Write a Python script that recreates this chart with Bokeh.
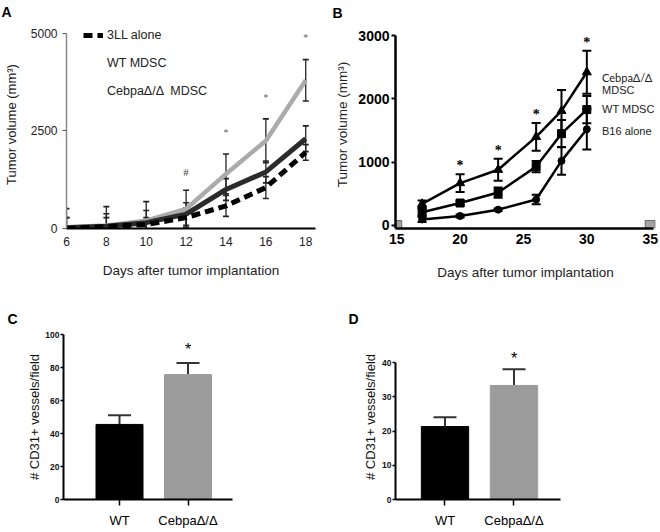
from bokeh.plotting import figure
from bokeh.models import (ColumnDataSource, Range1d, Whisker, TeeHead, Legend, LegendItem,
                          Label, LabelSet, FixedTicker, Title)
from bokeh.layouts import column, row
from bokeh.embed import file_html
from bokeh.resources import INLINE

FONT = "Liberation Sans"
ALT_FONT = "Lato"

# ---------------- Panel A data ----------------
a_days = [6, 8, 10, 12, 14, 16, 18]
a_3ll = [0, 50, 100, 280, 580, 1050, 1950]
a_3ll_err = [280, 230, 180, 250, 270, 280, 200]
a_wt = [20, 60, 150, 370, 1000, 1450, 2300]
a_wt_err = [260, 320, 310, 290, 280, 280, 330]
a_ceb = [30, 80, 200, 500, 1400, 2250, 3800]
a_ceb_err = [480, 480, 490, 480, 510, 560, 530]
a_yticks = [0, 2500, 5000]
a_star_days = [14, 16, 18]
a_hash_days = [12]

# ---------------- Panel B data ----------------
b_days = [17, 20, 23, 26, 28, 30]
b_ceb = [340, 670, 880, 1400, 1810, 2420]
b_ceb_err = [55, 140, 175, 220, 330, 340]
b_wt = [210, 355, 520, 930, 1450, 1830]
b_wt_err = [60, 30, 80, 90, 215, 215]
b_b16 = [95, 150, 250, 410, 1020, 1520]
b_b16_err = [40, 25, 20, 75, 220, 320]
b_xticks = [15, 20, 25, 30, 35]
b_yticks = [0, 1000, 2000, 3000]
b_star_days = [20, 23, 26, 30]
b_corner_days = [15, 35]

# ---------------- Panels C / D data ----------------
bar_cats = ["WT", "CebpaΔ/Δ"]
c_vals = [45.5, 75.7]
c_err = [5.5, 7.1]
c_yticks = [0, 20, 40, 60, 80, 100]
d_vals = [21.3, 33.3]
d_err = [2.7, 4.7]
d_yticks = [0, 10, 20, 30, 40]
bar_colors = ["#000000", "#9b9b9b"]


def base_fig(**kw):
    p = figure(output_backend="svg", toolbar_location=None, **kw)
    p.xgrid.visible = False
    p.ygrid.visible = False
    p.outline_line_color = None
    p.background_fill_color = "white"
    p.border_fill_color = "white"
    for ax in (p.xaxis[0], p.yaxis[0]):
        ax.minor_tick_line_color = None
        ax.major_tick_in = 0
        ax.major_label_text_font = FONT
        ax.axis_label_text_font = FONT
        ax.axis_label_text_font_style = "normal"
    return p


def panel_title(p, text, offset, standoff):
    p.title.text = text
    p.title.align = "left"
    p.title.offset = offset
    p.title.standoff = standoff
    p.title.text_font = FONT
    p.title.text_font_size = "14px"
    p.title.text_font_style = "bold"
    p.title.text_color = "black"


# ================= Panel A =================
pA = base_fig(width=330, height=300, x_range=Range1d(6, 18.49), y_range=Range1d(0, 5333),
              min_border_left=63, min_border_right=15, min_border_top=20, min_border_bottom=72)
pA.yaxis.bounds = (0, 5000)
pA.xaxis.ticker = FixedTicker(ticks=a_days)
pA.yaxis.ticker = FixedTicker(ticks=a_yticks)
pA.xaxis.axis_line_color = "black"
pA.xaxis.axis_line_width = 2
pA.xaxis.major_tick_out = 0
pA.xaxis.major_label_text_font_size = "12px"
pA.xaxis.major_label_text_color = "#222222"
pA.xaxis.major_label_standoff = 8
pA.xaxis.axis_label = "Days after tumor implantation"
pA.xaxis.axis_label_text_font_size = "13.5px"
pA.xaxis.axis_label_text_color = "#222222"
pA.xaxis.axis_label_standoff = 14
pA.yaxis.axis_line_color = "#8a8a8a"
pA.yaxis.axis_line_width = 1.5
pA.yaxis.major_tick_out = 4
pA.yaxis.major_tick_line_color = "#555555"
pA.yaxis.major_label_text_font_size = "12px"
pA.yaxis.major_label_text_color = "#222222"
pA.yaxis.major_label_standoff = 5
pA.yaxis.axis_label = "Tumor volume (mm³)"
pA.yaxis.axis_label_text_font_size = "13px"
pA.yaxis.axis_label_text_color = "#222222"
pA.yaxis.axis_label_standoff = 9

srcA = ColumnDataSource(dict(
    x=a_days,
    ceb=a_ceb, wt=a_wt, ll=a_3ll,
    ceb_u=[m + e for m, e in zip(a_ceb, a_ceb_err)], ceb_l=[m - e for m, e in zip(a_ceb, a_ceb_err)],
    wt_u=[m + e for m, e in zip(a_wt, a_wt_err)], wt_l=[m - e for m, e in zip(a_wt, a_wt_err)],
    ll_u=[m + e for m, e in zip(a_3ll, a_3ll_err)], ll_l=[m - e for m, e in zip(a_3ll, a_3ll_err)],
))

for u, l in (("ceb_u", "ceb_l"), ("wt_u", "wt_l"), ("ll_u", "ll_l")):
    pA.add_layout(Whisker(base="x", upper=u, lower=l, source=srcA, line_color="#222222", line_width=1.3,
                          upper_head=TeeHead(size=6, line_color="#222222", line_width=1.6),
                          lower_head=TeeHead(size=6, line_color="#222222", line_width=1.6)))

r_ceb = pA.line("x", "ceb", source=srcA, line_color="#ababab", line_width=4.5)
r_wt = pA.line("x", "wt", source=srcA, line_color="#2b2b2b", line_width=5)
r_3ll = pA.line("x", "ll", source=srcA, line_color="black", line_width=5, line_dash="9 5")
r_cb1 = pA.line([], [], line_color="#5a5a5a", line_width=8)
r_cb2 = pA.line([], [], line_color="#bdbdbd", line_width=5)
r_wtl = pA.line([], [], line_color="black", line_width=6)

legA = Legend(items=[LegendItem(label="3LL alone", renderers=[r_3ll]),
                     LegendItem(label="WT MDSC", renderers=[r_wtl]),
                     LegendItem(label="CebpaΔ/Δ  MDSC", renderers=[r_cb1, r_cb2])],
              location=(17, 127), glyph_width=20, glyph_height=20, spacing=8, padding=0, margin=0,
              label_standoff=4, label_text_font=FONT, label_text_font_size="12.5px",
              label_text_color="#222222", border_line_color=None, background_fill_alpha=0)
pA.add_layout(legA)

ceb_upper_a = dict(zip(a_days, srcA.data["ceb_u"]))
starsA = ColumnDataSource(dict(x=a_star_days, y=[ceb_upper_a[d] + 560 for d in a_star_days],
                               t=["*"] * len(a_star_days)))
pA.add_layout(LabelSet(x="x", y="y", text="t", source=starsA, text_align="center",
                       text_baseline="middle", text_font=FONT, text_font_size="10px",
                       text_color="#666666"))
hashA = ColumnDataSource(dict(x=a_hash_days, y=[ceb_upper_a[d] + 480 for d in a_hash_days],
                              t=["#"] * len(a_hash_days)))
pA.add_layout(LabelSet(x="x", y="y", text="t", source=hashA, text_align="center",
                       text_baseline="middle", text_font=FONT, text_font_size="11px",
                       text_color="#444444"))
panel_title(pA, "A", -65, 2)

# ================= Panel B =================
pB = base_fig(width=330, height=300, x_range=Range1d(14.9, 35.42), y_range=Range1d(-47.4, 3237),
              min_border_left=65, min_border_right=5, min_border_top=20, min_border_bottom=72)
pB.xaxis.bounds = (14.9, 35.25)
pB.yaxis.bounds = (-47.4, 3000)
pB.xaxis.ticker = FixedTicker(ticks=b_xticks)
pB.yaxis.ticker = FixedTicker(ticks=b_yticks)
for ax in (pB.xaxis[0], pB.yaxis[0]):
    ax.axis_line_color = "black"
    ax.axis_line_width = 2.5
    ax.major_tick_line_color = "black"
    ax.major_tick_line_width = 2
    ax.major_label_text_font_style = "bold"
    ax.major_label_text_font_size = "14px"
    ax.major_label_text_color = "black"
    ax.axis_label_text_font_size = "13.5px"
    ax.axis_label_text_color = "#222222"
pB.xaxis.major_tick_out = 0
pB.xaxis.major_label_standoff = 5
pB.xaxis.axis_label = "Days after tumor implantation"
pB.xaxis.axis_label_standoff = 18
pB.yaxis.major_tick_out = 4
pB.yaxis.major_label_standoff = 2
pB.yaxis.axis_label = "Tumor volume (mm³)"
pB.yaxis.axis_label_standoff = 5

srcB = ColumnDataSource(dict(
    x=b_days, ceb=b_ceb, wt=b_wt, b16=b_b16,
    ceb_u=[m + e for m, e in zip(b_ceb, b_ceb_err)], ceb_l=[m - e for m, e in zip(b_ceb, b_ceb_err)],
    wt_u=[m + e for m, e in zip(b_wt, b_wt_err)], wt_l=[m - e for m, e in zip(b_wt, b_wt_err)],
    b16_u=[m + e for m, e in zip(b_b16, b_b16_err)], b16_l=[m - e for m, e in zip(b_b16, b_b16_err)],
))
for u, l in (("ceb_u", "ceb_l"), ("wt_u", "wt_l"), ("b16_u", "b16_l")):
    pB.add_layout(Whisker(base="x", upper=u, lower=l, source=srcB, line_color="black", line_width=2,
                          upper_head=TeeHead(size=9, line_color="black", line_width=2),
                          lower_head=TeeHead(size=9, line_color="black", line_width=2)))
pB.line("x", "ceb", source=srcB, line_color="black", line_width=2.5)
pB.line("x", "wt", source=srcB, line_color="black", line_width=2.5)
pB.line("x", "b16", source=srcB, line_color="black", line_width=2.5)
pB.scatter("x", "ceb", source=srcB, marker="triangle", size=9, color="black")
pB.scatter("x", "wt", source=srcB, marker="square", size=8, color="black")
pB.scatter("x", "b16", source=srcB, marker="circle", size=7, color="black")
pB.scatter(b_corner_days, [0] * len(b_corner_days), marker="square", size=10,
           fill_color="#a3a3a3", line_color="#6a6a6a", line_width=1)

ceb_upper_b = dict(zip(b_days, srcB.data["ceb_u"]))
starsB = ColumnDataSource(dict(x=b_star_days, y=[ceb_upper_b[d] + 130 for d in b_star_days],
                               t=["*"] * len(b_star_days)))
pB.add_layout(LabelSet(x="x", y="y", text="t", source=starsB, text_align="center",
                       text_baseline="middle", text_font=FONT, text_font_size="14px",
                       text_font_style="bold", text_color="black"))
lab_x = 31.2
for txt, yv, fnt in (("CebpaΔ/Δ", 2337, ALT_FONT), ("MDSC", 2132, FONT),
                     ("WT MDSC", 1847, FONT), ("B16 alone", 1500, FONT)):
    pB.add_layout(Label(x=lab_x, y=yv, text=txt, text_font=fnt, text_font_size="11px",
                        text_color="#222222", text_baseline="middle", text_align="left"))
panel_title(pB, "B", -63, 0)


# ================= Panels C / D =================
def bar_panel(width, x_rng, y_max, x_bounds, y_top, yticks, vals, errs, mb_left, mb_right,
              use_axis_label, label_standoff):
    p = base_fig(width=width, height=232, x_range=Range1d(*x_rng), y_range=Range1d(0, y_max),
                 min_border_left=mb_left, min_border_right=mb_right, min_border_top=34,
                 min_border_bottom=33)
    pos = [i + 0.5 for i in range(len(bar_cats))]
    src = ColumnDataSource(dict(x=pos, top=vals, up=[v + e for v, e in zip(vals, errs)], color=bar_colors))
    p.add_layout(Whisker(base="x", upper="up", lower="top", source=src, line_color="#333333",
                         line_width=2, upper_head=TeeHead(size=23, line_color="#333333", line_width=2),
                         lower_head=None))
    p.vbar(x="x", top="top", width=0.686, color="color", source=src)
    p.xaxis.ticker = FixedTicker(ticks=pos)
    p.xaxis.major_label_overrides = {x: c for x, c in zip(pos, bar_cats)}
    p.xaxis.bounds = x_bounds
    p.yaxis.bounds = (0, y_top)
    for ax in (p.xaxis[0], p.yaxis[0]):
        ax.axis_line_color = "black"
        ax.axis_line_width = 2
        ax.major_tick_line_color = "black"
        ax.major_tick_line_width = 1.5
    p.xaxis.major_tick_out = 6
    p.xaxis.major_label_text_font_size = "13px"
    p.xaxis.major_label_text_color = "black"
    p.xaxis.major_label_standoff = 7
    p.yaxis.ticker = FixedTicker(ticks=yticks)
    p.yaxis.major_tick_out = 3
    p.yaxis.major_label_standoff = 1
    p.yaxis.major_label_text_font_size = "8.5px"
    p.yaxis.major_label_text_font_style = "bold"
    p.yaxis.major_label_text_color = "#111111"
    ylab = "# CD31+ vessels/field"
    if use_axis_label:
        p.yaxis.axis_label = ylab
        p.yaxis.axis_label_text_font_size = "13px"
        p.yaxis.axis_label_text_color = "#111111"
        p.yaxis.axis_label_standoff = label_standoff
    else:
        p.add_layout(Title(text=ylab, align="center", offset=label_standoff, standoff=4,
                           text_font=FONT, text_font_size="13px", text_font_style="normal",
                           text_color="#111111"), "left")
    star = Label(x=pos[1], y=src.data["up"][1] + y_top * 0.08, text="*", text_font=FONT,
                 text_font_size="16px", text_color="black", text_align="center", text_baseline="middle")
    p.add_layout(star)
    return p


pC = bar_panel(330, (-0.3175, 3.361), 100, (-0.3175, 2.15), 100, c_yticks, c_vals, c_err,
               63, 15, True, 0)
panel_title(pC, "C", -56, 16)
pD = bar_panel(330, (-0.2174, 3.551), 48.18, (-0.2174, 2.174), 40, d_yticks, d_vals, d_err,
               65, 5, False, -22)
panel_title(pD, "D", -47, 16)

layout = column(row(pA, pB), row(pC, pD))
open("out.html", "w").write(file_html(layout, INLINE))
